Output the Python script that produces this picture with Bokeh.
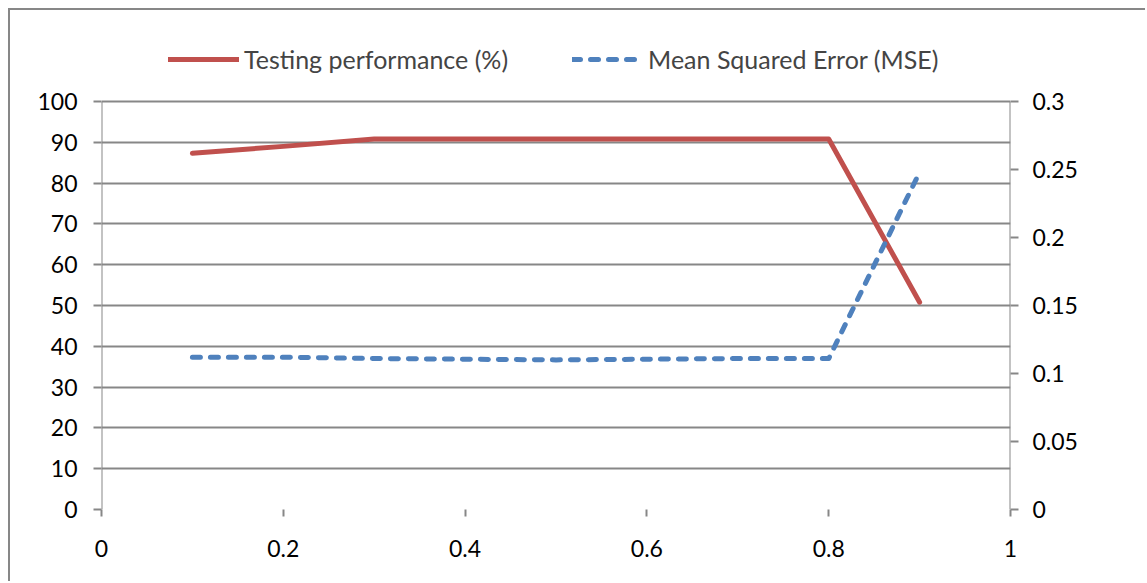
from bokeh.plotting import figure
from bokeh.models import Range1d, LinearAxis, FixedTicker, Legend, LegendItem
from bokeh.embed import file_html
from bokeh.resources import INLINE

# Training-set fraction vs. testing performance and error
ratio = [0.1, 0.2, 0.3, 0.4, 0.5, 0.6, 0.7, 0.8, 0.9]
testing_perf = [87.3, 89.0, 90.8, 90.8, 90.8, 90.8, 90.8, 90.8, 50.8]
mse = [0.112, 0.112, 0.111, 0.1105, 0.110, 0.1105, 0.111, 0.111, 0.248]

x_ticks = [0, 0.2, 0.4, 0.6, 0.8, 1]
left_ticks = [0, 10, 20, 30, 40, 50, 60, 70, 80, 90, 100]
right_ticks = [0, 0.05, 0.1, 0.15, 0.2, 0.25, 0.3]
left_max, right_max = 100, 0.3

FONT = "Lato"
FS = "23px"
LEG_FS = "25px"
GRID = "#878787"
RED = "#C0504D"
BLUE = "#4F81BD"

# plot area height 499 px, of which the upper 91 px hold the legend
headroom = 499 / 408

p = figure(width=1137, height=573, output_backend="svg", toolbar_location=None,
           x_range=Range1d(0, 1), y_range=Range1d(0, left_max * headroom),
           min_border_left=91, min_border_right=137,
           min_border_top=0, min_border_bottom=74,
           background_fill_color="white", border_fill_color="white",
           margin=(8, 0, 0, 8),
           styles={"border-left": f"2px solid {GRID}", "border-top": f"2px solid {GRID}"})
p.outline_line_color = None
p.extra_y_ranges = {"mse": Range1d(0, right_max * headroom)}

# grid: horizontal only
p.xgrid.visible = False
p.ygrid.ticker = FixedTicker(ticks=left_ticks)
p.ygrid.grid_line_color = GRID
p.ygrid.grid_line_width = 2


def style_axis(ax):
    ax.axis_line_color = None
    ax.major_tick_line_color = GRID
    ax.major_tick_line_width = 2
    ax.minor_tick_line_color = None
    ax.major_label_text_font = FONT
    ax.major_label_text_font_size = FS
    ax.major_label_text_color = "black"


xa = p.xaxis[0]
xa.ticker = FixedTicker(ticks=x_ticks)
xa.major_label_overrides = {0: "0", 0.2: "0.2", 0.4: "0.4", 0.6: "0.6", 0.8: "0.8", 1: "1"}
xa.major_tick_in = 0
xa.major_tick_out = 7
xa.major_label_standoff = 23
style_axis(xa)

ya = p.yaxis[0]
ya.ticker = FixedTicker(ticks=left_ticks)
ya.major_tick_in = 0
ya.major_tick_out = 8
ya.major_label_standoff = 16
style_axis(ya)

ra = LinearAxis(y_range_name="mse", ticker=FixedTicker(ticks=right_ticks))
ra.major_label_overrides = {0: "0", 0.05: "0.05", 0.1: "0.1", 0.15: "0.15",
                            0.2: "0.2", 0.25: "0.25", 0.3: "0.3"}
ra.major_tick_in = 0
ra.major_tick_out = 8
ra.major_label_standoff = 14
style_axis(ra)
p.add_layout(ra, "right")

# vertical axis lines, spanning only the value range
p.segment(x0=[0, 1], y0=[0, 0], x1=[0, 1], y1=[left_max, left_max],
          line_color=GRID, line_width=2)

r1 = p.line(ratio, testing_perf, line_color=RED, line_width=5,
            line_join="round", line_cap="round")
r2 = p.line(ratio, mse, y_range_name="mse", line_color=BLUE, line_width=5,
            line_dash="8 10", line_join="round", line_cap="round")

legend = Legend(items=[LegendItem(label="Testing performance (%)", renderers=[r1]),
                       LegendItem(label="Mean Squared Error (MSE)", renderers=[r2])],
                orientation="horizontal", location=(67, 435),
                label_text_font=FONT, label_text_font_size=LEG_FS,
                glyph_width=71, glyph_height=26, spacing=64, label_standoff=5,
                border_line_color=None, background_fill_alpha=0, padding=0, margin=0)
p.add_layout(legend, "center")

open("out.html", "w").write(file_html(p, INLINE))
